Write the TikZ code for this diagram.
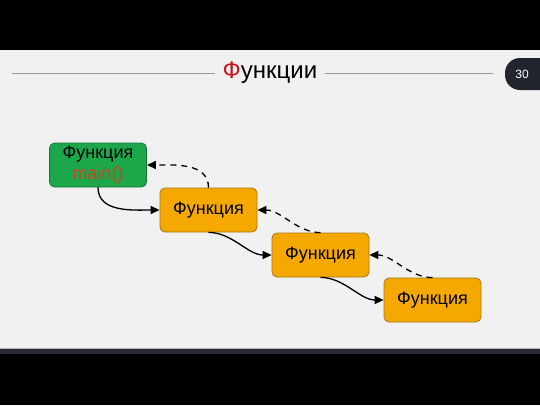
\documentclass[tikz,border=0pt]{standalone}
\usepackage{fontspec}
\setmainfont{Liberation Sans}
\usetikzlibrary{arrows.meta}
\definecolor{bg}{HTML}{F1F1F1}
\definecolor{fgreen}{HTML}{1DA74B}
\definecolor{fgreenb}{HTML}{17763A}
\definecolor{forange}{HTML}{F5A800}
\definecolor{forangeb}{HTML}{A97812}
\definecolor{mainred}{HTML}{D2401E}
\definecolor{titlered}{HTML}{C8141E}
\definecolor{badge}{HTML}{22252E}
\definecolor{strip}{HTML}{2A2A36}
\tikzset{
  fbox/.style={draw, line width=0.8pt, rounded corners=5pt, minimum width=97pt, minimum height=44pt, inner sep=2pt, font=\fontsize{18}{20}\selectfont, align=center},
  gbox/.style={fbox, fill=fgreen, draw=fgreenb},
  obox/.style={fbox, fill=forange, draw=forangeb},
  call/.style={-{Triangle[length=9pt,width=8pt]}, line width=1.3pt},
  ret/.style={-{Triangle[length=9pt,width=8pt]}, line width=1.3pt, dash pattern=on 6pt off 5pt},
  hline/.style={draw=gray!80, line width=0.8pt}
}
\begin{document}
\begin{tikzpicture}[x=1pt,y=-1pt]
\useasboundingbox (0,0) rectangle (540,405);
\fill[black] (0,0) rectangle (540,405);
\fill[bg] (0,50) rectangle (540,348);
\fill[strip] (0,348) rectangle (540,354);
\draw[gray!60, line width=0.6pt] (0,348) -- (540,348);
% title
\node[font=\fontsize{24}{26}\selectfont] (title) at (270,73) {\textcolor{titlered}{Ф}ункции};
\coordinate (l1) at (12,73); \coordinate (l2) at (215,73);
\coordinate (r1) at (325,73); \coordinate (r2) at (493,73);
\draw[hline] (l1) -- (l2);
\draw[hline] (r1) -- (r2);
\fill[badge, rounded corners=15pt] (505,58) rectangle (560,90);
\node[text=white, font=\fontsize{12}{14}\selectfont] (pg) at (522,74) {30};
% nodes
\node[gbox] (m) at (98,165) {Функция\\[1pt]\textcolor{mainred}{main()}};
\node[obox] (f1) at (208.5,210) {Функция};
\node[obox] (f2) at (320.5,255) {Функция};
\node[obox] (f3) at (432.5,300) {Функция};
% calls
\draw[call] (m.south) to[out=-90, in=180, looseness=1.0] (f1.west);
\draw[call] (f1.south) to[out=0, in=180, looseness=0.9] (f2.west);
\draw[call] (f2.south) to[out=0, in=180, looseness=0.9] (f3.west);
% returns
\draw[ret] (f1.north) to[out=90, in=0, looseness=1.0] (m.east);
\draw[ret] (f2.north) to[out=180, in=0, looseness=0.9] (f1.east);
\draw[ret] (f3.north) to[out=180, in=0, looseness=0.9] (f2.east);
\end{tikzpicture}
\end{document}
